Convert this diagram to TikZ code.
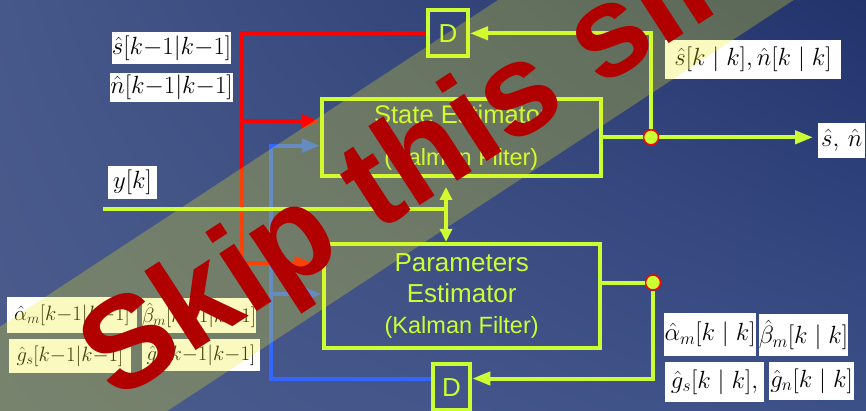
\documentclass[tikz,border=0pt]{standalone}
\usepackage[no-math]{fontspec}
\newfontfamily\arialf{Liberation Sans}
\usetikzlibrary{arrows.meta,shadings}
\definecolor{ylw}{HTML}{CCFF33}
\definecolor{rline}{HTML}{FF0000}
\definecolor{bline}{HTML}{3366FF}
\definecolor{wm}{HTML}{B00000}
\definecolor{band}{RGB}{235,235,30}
\definecolor{bgUL}{HTML}{465789}
\definecolor{bgUR}{HTML}{22336C}
\definecolor{bgLL}{HTML}{4B5B8C}
\definecolor{bgLR}{HTML}{3C5088}
\begin{document}
\begin{tikzpicture}[x=1pt,y=-1pt,
  >={Triangle[length=18pt,width=13pt]},
  yl/.style={draw=ylw, line width=4pt},
  rl/.style={draw=rline, line width=4pt},
  bl/.style={draw=bline, line width=4pt},
  blk/.style={yl, inner sep=0pt, text=ylw, align=center},
  dly/.style={yl, inner sep=0pt, text=ylw, minimum width=40pt, minimum height=46pt, font=\arialf\fontsize{26}{26}\selectfont},
  lab/.style={fill=white, text=black, inner sep=0pt},
  jdot/.style={circle, fill=ylw, draw=rline, line width=1.5pt, minimum size=15pt, inner sep=0pt},
  smtip/.style={>={Triangle[length=13pt,width=12pt]}}
]
\useasboundingbox (0,0) rectangle (866,410);
\clip (0,0) rectangle (866,410);
\shade[upper left=bgUL, upper right=bgUR, lower left=bgLL, lower right=bgLR] (0,0) rectangle (866,410);

% blocks
\node[blk, minimum width=278.7pt, minimum height=77.3pt, font=\arialf\fontsize{25.5}{42}\selectfont] (SE) at (461.3,137.3) {State Estimator\\{\fontsize{23.5}{42}\selectfont(Kalman Filter)}};
\node[blk, minimum width=276pt, minimum height=104pt, font=\arialf\fontsize{26}{31}\selectfont] (PE) at (461.7,295.8) {Parameters\\Estimator\\{\fontsize{23.5}{31}\selectfont(Kalman Filter)}};
\node[dly] (D1) at (448,33.3) {D};
\node[dly, minimum width=37.6pt] (D2) at (451.5,387.3) {D};
\node[jdot] (J1) at (651,137.3) {};
\node[jdot] (J2) at (653,282.5) {};

% labels
\begin{scope}[font=\fontsize{23}{23}\selectfont]
\node[lab, minimum width=119pt, minimum height=32pt] (Ls1) at (171.5,48) {$\hat s[k{-}1|k{-}1]$};
\node[lab, minimum width=119pt, minimum height=29pt] (Ln1) at (171.5,87.5) {$\hat n[k{-}1|k{-}1]$};
\end{scope}
\begin{scope}[font=\fontsize{21.5}{21.5}\selectfont]
\node[lab, minimum width=130pt, minimum height=36pt] (La1) at (72,315) {$\hat\alpha_m[k{-}1|k{-}1]$};
\node[lab, minimum width=114pt, minimum height=35pt] (Lb1) at (199,315.5) {$\hat\beta_m[k{-}1|k{-}1]$};
\node[lab, minimum width=122pt, minimum height=34pt] (Lgs1) at (70,356) {$\hat g_s[k{-}1|k{-}1]$};
\node[lab, minimum width=118pt, minimum height=32pt] (Lgn1) at (201,355) {$\hat g_n[k{-}1|k{-}1]$};
\end{scope}
\begin{scope}[font=\fontsize{24}{24}\selectfont]
\node[lab, minimum width=92pt, minimum height=43pt] (La2) at (710,334.5) {$\hat\alpha_m[k\mid k]$};
\node[lab, minimum width=89pt, minimum height=42pt] (Lb2) at (803.5,335) {$\hat\beta_m[k\mid k]$};
\node[lab, minimum width=99pt, minimum height=40pt] (Lgs2) at (714.5,382) {$\hat g_s[k\mid k],$};
\node[lab, minimum width=85pt, minimum height=38pt] (Lgn2) at (811.5,381) {$\hat g_n[k\mid k]$};
\end{scope}
\node[lab, minimum width=49pt, minimum height=33pt, font=\fontsize{26}{26}\selectfont] (Ly) at (132.5,182.5) {$y[k]$};
\node[lab, minimum width=176pt, minimum height=39pt, font=\fontsize{26}{26}\selectfont] (Lsn) at (753,59.5) {$\hat s[k\mid k],\hat n[k\mid k]$};
\node[lab, anchor=west, minimum height=35pt, inner xsep=3pt, font=\fontsize{30}{30}\selectfont] (Lout) at (818,140.5) {$\hat s,\,\hat n$};

% coordinates
\coordinate (rT) at (241.7,33.3);
\coordinate (rM) at (241.7,121.3);
\coordinate (rB) at (241.7,263);
\coordinate (bT) at (271,145.7);
\coordinate (bM) at (271,294);
\coordinate (bB) at (271,378.5);
\coordinate (yS) at (103,209);
\coordinate (yJ) at (446,209);
\coordinate (J1t) at (651,33.3);
\coordinate (J2b) at (653,378.5);

% connectors
\draw[rl] (D1.west) -- (rT) -- (rB);
\draw[rl,->,shorten >=9pt] (rB) -- (rB -| PE.west);
\draw[rl,->] (rM) -- (rM -| SE.west);
\draw[bl,->] (D2.west |- bB) -- (bB) -- (bT) -- (bT -| SE.west);
\draw[bl,->] (bM) -- (bM -| PE.west);
\draw[yl] (yS) -- (yJ);
\draw[yl,smtip,->,shorten >=9pt] (yJ) -- (yJ |- SE.south);
\draw[yl,smtip,->] (yJ) -- (yJ |- PE.north);
\draw[yl] (SE.east |- J1) -- (J1);
\draw[yl,->,shorten >=5pt] (J1) -- (Lout.west |- J1);
\draw[yl,->] (J1) -- (J1t) -- (D1.east);
\draw[yl] (PE.east |- J2) -- (J2);
\draw[yl,->] (J2) -- (J2b) -- (J2b -| D2.east);

% watermark band and text
\fill[band, opacity=0.28] (-300,523.5) -- (1100,-395) -- (1100,-201) -- (-300,717.5) -- cycle;
\node[text=wm, font=\arialf\bfseries\fontsize{130}{130}\selectfont, anchor=base west, rotate=33, inner sep=0pt] (WM) at (116,403) {Skip this slide};
\end{tikzpicture}
\end{document}
